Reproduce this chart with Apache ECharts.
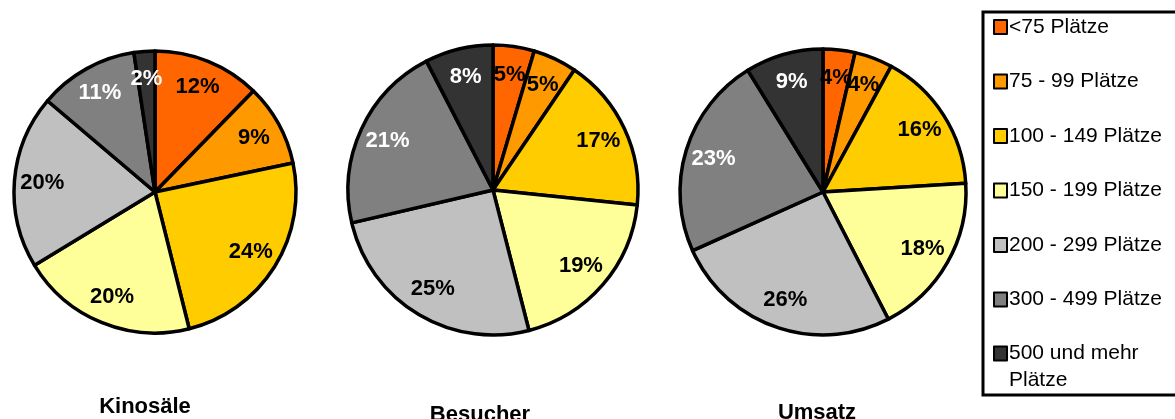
<!DOCTYPE html>
<html>
<head>
<meta charset="utf-8">
<script src="https://cdn.jsdelivr.net/npm/echarts@6/dist/echarts.min.js"></script>
<style>
  html, body { margin: 0; padding: 0; background: #fff; }
  #chart { width: 1175px; height: 419px; }
</style>
</head>
<body>
<div id="chart"></div>
<script>
// categories (seat classes) and share values in percent
const categories = ['<75 Plätze', '75 - 99 Plätze', '100 - 149 Plätze', '150 - 199 Plätze',
  '200 - 299 Plätze', '300 - 499 Plätze', '500 und mehr Plätze'];
const kinosaele = [12.3, 9.4, 24.4, 20.2, 19.9, 11.4, 2.4];
const besucher = [4.6, 4.9, 17.2, 19.4, 25.4, 21.1, 7.6];
const umsatz = [3.6, 4.3, 16.1, 18.4, 25.8, 22.9, 8.8];
const pieTitles = ['Kinosäle', 'Besucher', 'Umsatz'];

const colors = ['#FF6600', '#FF9900', '#FFCC00', '#FFFF99', '#C0C0C0', '#808080', '#333333'];
const labelColors = ['#000', '#000', '#000', '#000', '#000', '#fff', '#fff'];
const font = '"Liberation Sans", sans-serif';

const chart = echarts.init(document.getElementById('chart'));

function pieData(values) {
  return values.map((v, i) => ({
    name: categories[i],
    value: v,
    itemStyle: { color: colors[i] },
    label: { color: labelColors[i] }
  }));
}

// main pie + transparent ring carrying the labels (puts labels further out)
function pieSeries(values, center, r) {
  return [
    {
      type: 'pie',
      center: center,
      radius: [0, r],
      startAngle: 90,
      clockwise: true,
      silent: true,
      label: { show: false },
      labelLine: { show: false },
      itemStyle: { borderColor: '#000', borderWidth: 3.5 },
      emphasis: { disabled: true },
      data: pieData(values)
    },
    {
      type: 'pie',
      center: center,
      radius: [r * 0.56, r],
      startAngle: 90,
      clockwise: true,
      silent: true,
      avoidLabelOverlap: false,
      labelLayout: { hideOverlap: false },
      itemStyle: { color: 'rgba(0,0,0,0)', borderWidth: 0 },
      emphasis: { disabled: true },
      label: {
        show: true,
        position: 'inside',
        fontFamily: font,
        fontWeight: 'bold',
        fontSize: 22,
        overflow: 'none',
        formatter: p => Math.round(p.value) + '%'
      },
      labelLine: { show: false },
      data: pieData(values).map(d => Object.assign({}, d, { itemStyle: { color: 'rgba(0,0,0,0)' } }))
    }
  ];
}

const option = {
  animation: false,
  backgroundColor: '#fff',
  legend: [
    {
      orient: 'vertical',
      left: 993,
      top: 16,
      padding: 0,
      itemGap: 32.5,
      itemWidth: 13,
      itemHeight: 14,
      icon: 'rect',
      selectedMode: false,
      itemStyle: { borderColor: '#000', borderWidth: 2 },
      textStyle: { fontFamily: font, fontSize: 21, color: '#000', lineHeight: 22, padding: [0, 0, 0, -3] },
      data: categories.slice(0, 6)
    },
    {
      orient: 'vertical',
      left: 993,
      top: 313,
      padding: 0,
      itemWidth: 13,
      itemHeight: 14,
      icon: 'rect',
      selectedMode: false,
      itemStyle: { borderColor: '#000', borderWidth: 2 },
      textStyle: { fontFamily: font, fontSize: 21, color: '#000', lineHeight: 27, padding: [0, 0, 0, -3] },
      formatter: () => '\n500 und mehr\nPlätze',
      data: categories.slice(6)
    }
  ],
  graphic: [
    {
      type: 'rect',
      shape: { x: 983, y: 12, width: 205, height: 383 },
      style: { fill: 'none', stroke: '#000', lineWidth: 3 }
    },
    {
      type: 'text', x: 145, y: 407,
      style: { text: pieTitles[0], font: 'bold 22px ' + font, fill: '#000', textAlign: 'center', textVerticalAlign: 'middle' }
    },
    {
      type: 'text', x: 480, y: 415,
      style: { text: pieTitles[1], font: 'bold 22px ' + font, fill: '#000', textAlign: 'center', textVerticalAlign: 'middle' }
    },
    {
      type: 'text', x: 817, y: 413,
      style: { text: pieTitles[2], font: 'bold 22px ' + font, fill: '#000', textAlign: 'center', textVerticalAlign: 'middle' }
    }
  ],
  series: [].concat(
    pieSeries(kinosaele, [155, 192], 141),
    pieSeries(besucher, [493, 190], 145),
    pieSeries(umsatz, [823, 192], 143)
  )
};

chart.setOption(option);
</script>
</body>
</html>
